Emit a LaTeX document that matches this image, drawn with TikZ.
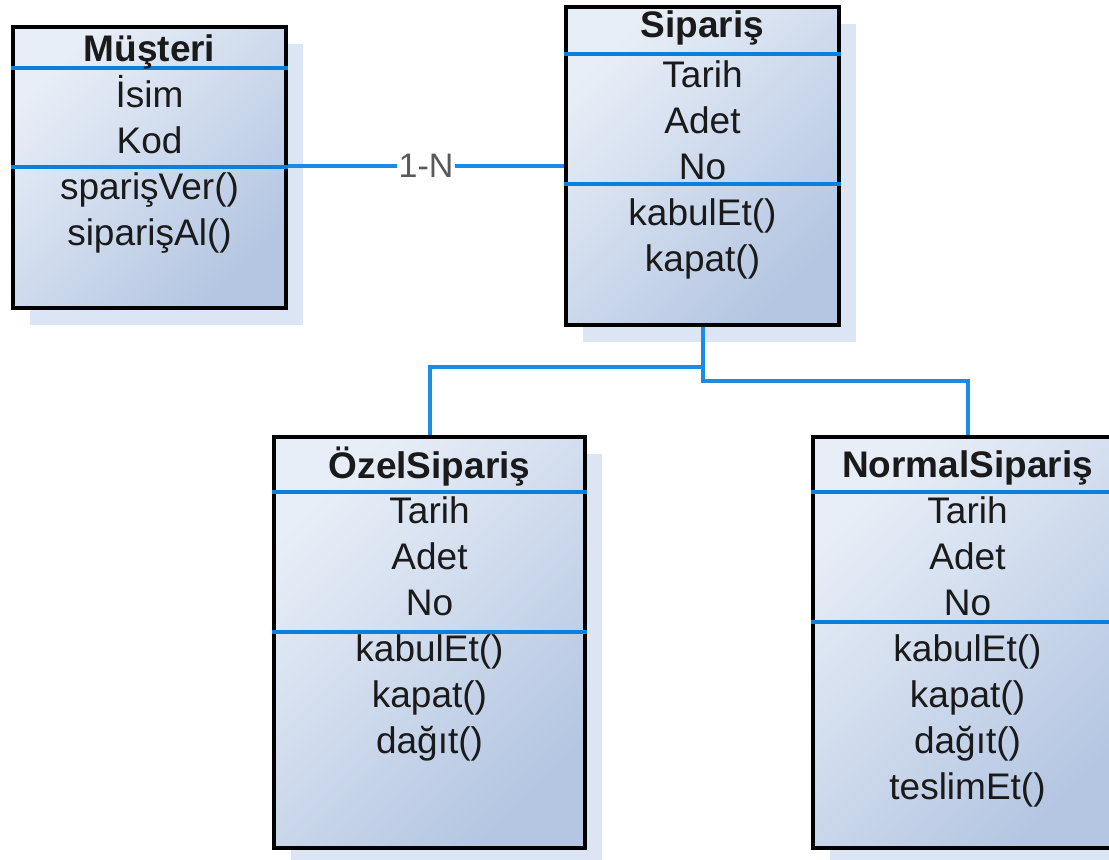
\documentclass[tikz,border=0pt]{standalone}
\usepackage{fontspec}
\setmainfont{Liberation Sans}
\usetikzlibrary{shadows}
\definecolor{boxlight}{HTML}{E8EEF7}
\definecolor{boxdark}{HTML}{B4C6E2}
\definecolor{shadowblue}{HTML}{DCE5F3}
\definecolor{linkblue}{HTML}{1A8BE6}
\definecolor{rowblue}{HTML}{0A80DC}
\definecolor{txt}{HTML}{1A1A1A}
\begin{document}
\begin{tikzpicture}[x=0.5pt,y=-0.5pt,
  cls/.style={draw=black, line width=2pt, inner sep=0pt,
    top color=boxlight, bottom color=boxdark, shading angle=45,
    drop shadow={shadow xshift=8.5pt, shadow yshift=-8.5pt, fill=shadowblue, opacity=1}},
  row/.style={anchor=base, text=txt, font=\fontsize{18.5}{22}\selectfont},
  title/.style={row, font=\fontsize{18.5}{22}\selectfont\bfseries},
  sep/.style={rowblue, line width=2pt},
  link/.style={linkblue, line width=2pt}]
\useasboundingbox (0,0) rectangle (1109,859);
% class boxes
\node[cls, minimum width=136.5pt, minimum height=140.5pt] (musteri) at (149.5,167.5) {};
\node[cls, minimum width=136.5pt, minimum height=159pt] (siparis) at (702.5,166) {};
\node[cls, minimum width=155.5pt, minimum height=205.5pt] (ozel) at (429.5,642.5) {};
\node[cls, minimum width=154.5pt, minimum height=205.5pt] (normal) at (967.5,642.5) {};
% compartment lines
\draw[sep] (musteri.west |- 0,68) -- (musteri.east |- 0,68);
\draw[sep] (musteri.west |- 0,167) -- (musteri.east |- 0,167);
\draw[sep] (siparis.west |- 0,54) -- (siparis.east |- 0,54);
\draw[sep] (siparis.west |- 0,184) -- (siparis.east |- 0,184);
\draw[sep] (ozel.west |- 0,492) -- (ozel.east |- 0,492);
\draw[sep] (ozel.west |- 0,632) -- (ozel.east |- 0,632);
\draw[sep] (normal.west |- 0,492) -- (normal.east |- 0,492);
\draw[sep] (normal.west |- 0,622) -- (normal.east |- 0,622);
% titles
\node[title] (musteri-t) at (149.5,61) {Müşteri};
\node[title] (siparis-t) at (702.5,37) {Sipariş};
\node[title] (ozel-t) at (429.5,478) {ÖzelSipariş};
\node[title] (normal-t) at (967.5,477) {NormalSipariş};
% members
\foreach \txt [count=\i] in {İsim,Kod,sparişVer(),siparişAl()}
  \node[row] (musteri-\i) at (149.5,{107+46*(\i-1)}) {\txt};
\foreach \txt [count=\i] in {Tarih,Adet,No,kabulEt(),kapat()}
  \node[row] (siparis-\i) at (702.5,{87+46*(\i-1)}) {\txt};
\foreach \txt [count=\i] in {Tarih,Adet,No,kabulEt(),kapat(),dağıt()}
  \node[row] (ozel-\i) at (429.5,{523+46*(\i-1)}) {\txt};
\foreach \txt [count=\i] in {Tarih,Adet,No,kabulEt(),kapat(),dağıt(),teslimEt()}
  \node[row] (normal-\i) at (967.5,{523+46*(\i-1)}) {\txt};
% connectors
\draw[link] (siparis.west) -- (siparis.west -| musteri.east)
  node[midway, fill=white, inner sep=1pt, text=black!65, font=\fontsize{17}{20}\selectfont] (card) {1-N};
\draw[link] (siparis.south) -- ++(0,40) -| (ozel.north);
\draw[link] (siparis.south) -- ++(0,54) -| (normal.north);
\end{tikzpicture}
\end{document}
